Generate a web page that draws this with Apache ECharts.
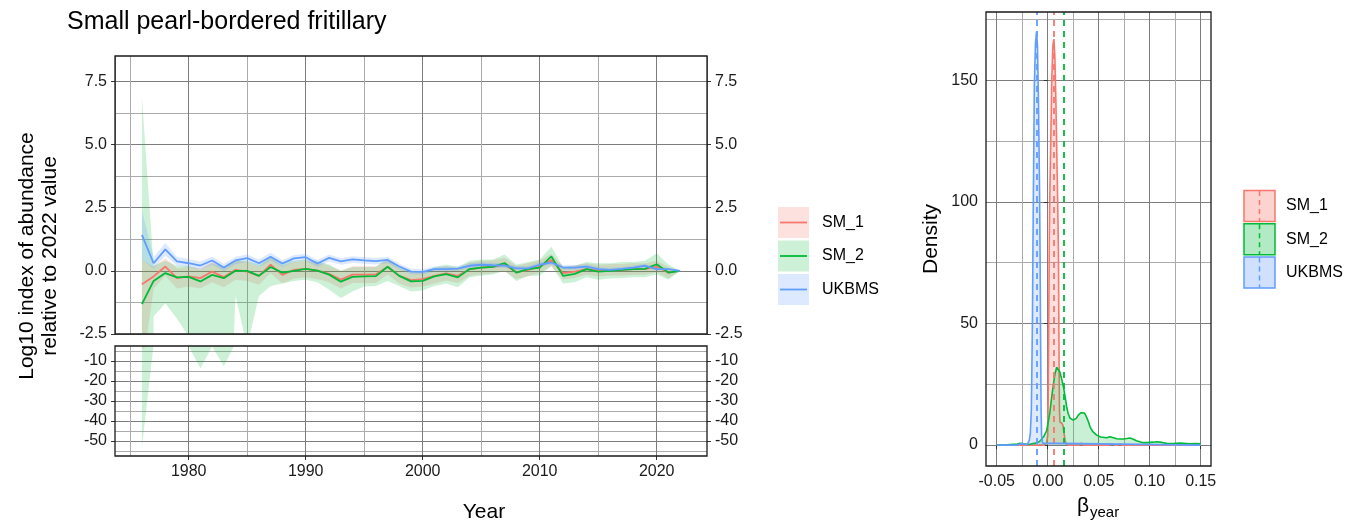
<!DOCTYPE html>
<html><head><meta charset="utf-8">
<script src="https://cdn.jsdelivr.net/npm/echarts@6/dist/echarts.min.js"></script>
<style>html,body{margin:0;padding:0;background:#fff}#c{width:1359px;height:523px}</style>
</head><body><div id="c"></div>
<script>
// ---------- DATA ----------
const years = [1976,1977,1978,1979,1980,1981,1982,1983,1984,1985,1986,1987,1988,1989,1990,1991,1992,1993,1994,1995,1996,1997,1998,1999,2000,2001,2002,2003,2004,2005,2006,2007,2008,2009,2010,2011,2012,2013,2014,2015,2016,2017,2018,2019,2020,2021,2022];
const seriesNames = ['SM_1','SM_2','UKBMS'];

const sm1   = [-0.53,-0.22,0.17,-0.29,-0.22,-0.29,-0.03,-0.25,0.04,-0.03,-0.20,0.24,-0.16,0.04,0.08,0.01,-0.12,-0.35,-0.15,-0.15,-0.15,0.16,-0.20,-0.37,-0.33,-0.20,-0.10,-0.20,0.06,0.13,0.16,0.25,-0.06,0.04,0.17,0.43,-0.09,-0.03,0.07,0.01,0.04,0.04,0.07,0.07,0.17,-0.07,0.00];
const sm1Hi = [0.45,0.15,0.50,0.10,0.15,0.10,0.35,0.15,0.40,0.35,0.15,0.55,0.20,0.35,0.40,0.35,0.20,0.00,0.18,0.18,0.18,0.45,0.10,-0.08,-0.05,0.10,0.18,0.10,0.33,0.40,0.42,0.52,0.20,0.30,0.42,0.68,0.16,0.22,0.30,0.24,0.27,0.27,0.30,0.30,0.40,0.15,0.00];
const sm1Lo = [-4.0,-0.70,-0.20,-0.70,-0.62,-0.70,-0.45,-0.65,-0.35,-0.40,-0.55,-0.10,-0.50,-0.30,-0.25,-0.33,-0.45,-0.70,-0.48,-0.48,-0.48,-0.15,-0.50,-0.66,-0.62,-0.50,-0.38,-0.48,-0.20,-0.14,-0.10,-0.02,-0.32,-0.22,-0.08,0.18,-0.34,-0.28,-0.16,-0.22,-0.19,-0.19,-0.16,-0.16,-0.06,-0.29,0.00];

const sm2   = [-1.32,-0.40,-0.09,-0.26,-0.24,-0.42,-0.16,-0.29,0.00,0.00,-0.20,0.15,-0.07,0.00,0.08,0.01,-0.15,-0.43,-0.24,-0.22,-0.21,0.16,-0.20,-0.42,-0.40,-0.22,-0.13,-0.26,0.07,0.13,0.16,0.31,-0.07,0.07,0.13,0.57,-0.20,-0.12,0.07,-0.03,0.00,0.04,0.07,0.08,0.26,-0.07,0.00];
const sm2Hi = [6.9,0.20,0.40,0.20,0.20,0.05,0.30,0.15,0.40,0.40,0.25,0.55,0.35,0.40,0.45,0.40,0.25,0.00,0.15,0.15,0.15,0.50,0.15,-0.05,-0.05,0.15,0.25,0.15,0.40,0.45,0.45,0.65,0.25,0.35,0.45,0.95,0.15,0.20,0.35,0.30,0.30,0.35,0.35,0.40,0.70,0.25,0.00];
const sm2Lo = [-53.0,-1.80,-1.28,-1.90,-2.60,-13.8,-2.80,-12.6,-1.00,-3.00,-1.00,-0.60,-0.50,-0.40,-0.35,-0.45,-0.75,-1.08,-0.82,-0.62,-0.60,-0.40,-0.60,-0.82,-0.78,-0.60,-0.50,-0.65,-0.25,-0.20,-0.15,0.00,-0.40,-0.20,-0.20,0.20,-0.50,-0.45,-0.25,-0.35,-0.30,-0.28,-0.25,-0.25,-0.15,-0.35,0.00];

const ukbms   = [1.42,0.30,0.85,0.37,0.30,0.21,0.41,0.13,0.41,0.50,0.30,0.56,0.29,0.49,0.54,0.29,0.51,0.37,0.45,0.41,0.38,0.43,0.17,-0.03,-0.04,0.07,0.07,0.09,0.20,0.24,0.22,0.21,0.10,0.10,0.24,0.33,0.13,0.13,0.17,0.07,0.04,0.08,0.13,0.20,0.07,0.07,0.00];
const ukbmsHi = [2.40,0.55,1.10,0.55,0.47,0.37,0.57,0.28,0.56,0.65,0.45,0.71,0.43,0.63,0.68,0.43,0.65,0.50,0.58,0.54,0.51,0.56,0.28,0.08,0.07,0.17,0.17,0.19,0.30,0.34,0.32,0.31,0.19,0.19,0.33,0.42,0.22,0.22,0.26,0.15,0.12,0.15,0.20,0.27,0.14,0.12,0.00];
const ukbmsLo = [0.45,0.08,0.60,0.20,0.14,0.05,0.25,-0.02,0.26,0.35,0.15,0.41,0.15,0.35,0.40,0.15,0.37,0.24,0.32,0.28,0.25,0.30,0.06,-0.14,-0.15,-0.03,-0.03,-0.01,0.10,0.14,0.12,0.11,0.01,0.01,0.15,0.24,0.04,0.04,0.08,-0.01,-0.04,0.01,0.06,0.13,0.00,0.02,0.00];

// tick labels
const yearTicks = [1980,1990,2000,2010,2020];
const upperTicks = [-2.5,0,2.5,5,7.5];
const lowerTicks = [-50,-40,-30,-20,-10];
const betaTicks = [-0.05,0,0.05,0.1,0.15];
const densityTicks = [0,50,100,150];

// posterior densities of beta_year
const dens1X = [-0.05,-0.01,-0.003,-0.002,-0.001,0,0.0005,0.001,0.0015,0.002,0.003,0.004,0.005,0.006,0.007,0.008,0.009,0.010,0.0105,0.011,0.0115,0.012,0.013,0.014,0.015,0.016,0.017,0.018,0.02,0.031,0.033,0.035,0.06,0.063,0.066,0.069,0.071,0.073,0.15];
const dens1Y = [0,0,0,0.2,1,4,20,50,80,100,125,150,164,167,160,142,118,95,80,45,15,9.5,9.2,9,8,5,2,0.5,0,0,0.8,0,0,0.5,0,0,0.5,0,0];
const dens2X = [-0.05,-0.04,-0.03,-0.027,-0.024,-0.02,-0.017,-0.012,-0.008,-0.004,-0.001,0.002,0.004,0.0056,0.007,0.0088,0.0105,0.012,0.0138,0.0154,0.017,0.0186,0.02,0.022,0.025,0.028,0.030,0.0325,0.0343,0.036,0.038,0.040,0.0415,0.044,0.048,0.052,0.0578,0.061,0.0645,0.0676,0.071,0.074,0.0775,0.0807,0.084,0.087,0.0935,0.098,0.1033,0.107,0.112,0.1166,0.123,0.1297,0.1395,0.145,0.15];
const dens2Y = [0,0.1,0.4,0.7,0.5,0.3,0.4,0.8,1.5,3.4,6,13,20,25,29,32,31.5,30,27,24,20,15.8,13,11,10.3,11,12.3,13.3,13.7,13.2,11.6,9.5,7.5,5.6,4.1,3.3,3.0,3.4,3.0,2.6,2.5,2.5,2.7,2.9,2.4,1.8,1.0,1.0,1.2,1.4,1.1,0.7,0.6,0.8,0.5,0.6,0.5];
const dens3X = [-0.05,-0.03,-0.027,-0.025,-0.022,-0.02,-0.019,-0.018,-0.017,-0.016,-0.015,-0.0145,-0.014,-0.0131,-0.012,-0.011,-0.010,-0.009,-0.008,-0.0075,-0.007,-0.0065,-0.006,-0.005,-0.004,0.15];
const dens3Y = [0,0,0.5,0.6,0.2,0.3,0.8,2,5,15,50,80,105,148,165,170,164,140,105,80,45,15,4,0.8,0,0];
const postMeans = [0.0059, 0.016, -0.0112];

// ---------- STYLE ----------
const colors = ['#F8766D','#00BA38','#619CFF'];
const ribbonFill = ['rgba(248,118,109,0.22)','rgba(0,186,56,0.2)','rgba(97,156,255,0.22)'];
const densFill = ['rgba(248,118,109,0.32)','rgba(0,186,56,0.3)','rgba(97,156,255,0.3)'];
const FONT = '"Liberation Sans", Arial, sans-serif';
const majorGrid = {show:true, lineStyle:{color:'#7d7d7d', width:1}};
const minorGrid = {show:true, lineStyle:{color:'#ababab', width:1}};
const lab = (extra) => Object.assign({color:'#1a1a1a', fontSize:16, fontFamily:FONT}, extra);
const tick = {show:true, length:4, lineStyle:{color:'#333', width:1}};

const G = [
  {left:115, top:56, width:592, height:278},
  {left:115, top:346, width:592, height:110},
  {left:986, top:12, width:225, height:454}
];

const mid = [sm1, sm2, ukbms];
const his = [sm1Hi, sm2Hi, ukbmsHi];
const los = [sm1Lo, sm2Lo, ukbmsLo];

function band(k, xi, yi) {
  return {
    type:'custom', xAxisIndex:xi, yAxisIndex:yi, clip:true, silent:true, z:2,
    data:[[years[0], 0]],
    renderItem: function(params, api) {
      const pts = [];
      for (let i = 0; i < years.length; i++) pts.push(api.coord([years[i], his[k][i]]));
      for (let i = years.length - 1; i >= 0; i--) pts.push(api.coord([years[i], los[k][i]]));
      const cs = params.coordSys;
      return {type:'group', clipPath:{type:'rect', shape:{x:cs.x, y:cs.y, width:cs.width, height:cs.height}},
        children:[{type:'polygon', shape:{points:pts}, style:{fill:ribbonFill[k], stroke:null}}]};
    }
  };
}

const series = [];
for (let k = 0; k < 3; k++) { series.push(band(k, 0, 0)); series.push(band(k, 1, 2)); }
for (let k = 0; k < 3; k++) {
  series.push({type:'line', name:seriesNames[k], xAxisIndex:0, yAxisIndex:0, z:3,
    data: years.map((y, i) => [y, mid[k][i]]), showSymbol:false, symbol:'none',
    lineStyle:{color:colors[k], width:1.8}, clip:true});
}
const dX = [dens1X, dens2X, dens3X], dY = [dens1Y, dens2Y, dens3Y];
for (let k = 0; k < 3; k++) {
  series.push({type:'line', name:seriesNames[k]+'_d', xAxisIndex:2, yAxisIndex:4, z:3+k,
    data: dX[k].map((x, i) => [x, dY[k][i]]), showSymbol:false, symbol:'none',
    lineStyle:{color:colors[k], width:1.6}, areaStyle:{color:densFill[k], origin:'auto'},
    markLine:{silent:true, precision:6, symbol:['none','none'], label:{show:false}, animation:false,
      lineStyle:{color:colors[k], type:[6,5], width:1.8}, data:[{xAxis:postMeans[k]}]}});
}

const xYear = (gi, showLab) => ({type:'value', gridIndex:gi, min:1973.7, max:2024.3, splitNumber:5,
  axisLine:{show:false}, axisTick: showLab ? Object.assign({customValues:yearTicks}, tick) : {show:false},
  axisLabel: showLab ? lab({margin:8, customValues:yearTicks, formatter:v=>String(v)}) : {show:false},
  splitLine:majorGrid, minorTick:{show:false, splitNumber:2}, minorSplitLine:minorGrid});

const yUp = (pos, grid) => ({type:'value', gridIndex:0, position:pos, min:-2.5, max:8.5, interval:2.5,
  axisLine:{show:false}, axisTick:Object.assign({customValues:upperTicks}, tick),
  axisLabel:lab({margin:8, customValues:upperTicks, formatter:v=>v.toFixed(1)}),
  splitLine: grid ? majorGrid : {show:false}, minorTick:{show:false, splitNumber:2},
  minorSplitLine: grid ? minorGrid : {show:false}});
const yLow = (pos, grid) => ({type:'value', gridIndex:1, position:pos, min:-57.5, max:-2.5, splitNumber:5,
  axisLine:{show:false}, axisTick:Object.assign({customValues:lowerTicks}, tick),
  axisLabel:lab({margin:8, customValues:lowerTicks, formatter:v=>String(v)}),
  splitLine: grid ? majorGrid : {show:false}, minorTick:{show:false, splitNumber:2},
  minorSplitLine: grid ? minorGrid : {show:false}});

const option = {
  animation:false,
  grid: G.map(g => Object.assign({show:false, containLabel:false}, g)),
  xAxis: [
    xYear(0, false), xYear(1, true),
    {type:'value', gridIndex:2, min:-0.0605, max:0.1601, splitNumber:5, axisLine:{show:false},
     axisTick:Object.assign({customValues:betaTicks}, tick),
     axisLabel:lab({margin:8, customValues:betaTicks, formatter:v=>v.toFixed(2)}),
     splitLine:majorGrid, minorTick:{show:false, splitNumber:2}, minorSplitLine:minorGrid}
  ],
  yAxis: [
    yUp('left', true), yUp('right', false), yLow('left', true), yLow('right', false),
    {type:'value', gridIndex:2, min:-8.6, max:178.1, splitNumber:4, axisLine:{show:false},
     axisTick:Object.assign({customValues:densityTicks}, tick),
     axisLabel:lab({margin:8, customValues:densityTicks, formatter:v=>String(v)}),
     splitLine:majorGrid, minorTick:{show:false, splitNumber:2}, minorSplitLine:minorGrid}
  ],
  series: series,
  graphic: buildGraphic()
};

function buildGraphic() {
  const g = [];
  const txt = (x, y, text, size, extra) => Object.assign({type:'text', x:x, y:y, z:100, silent:true,
    style:{text:text, fontSize:size, fontFamily:FONT, fill:'#000', align:'left', verticalAlign:'middle'}}, extra || {});
  g.push(txt(67, 22, 'Small pearl-bordered fritillary', 25));
  const yt = txt(39, 256, 'Log10 index of abundance\nrelative to 2022 value', 21, {rotation:Math.PI/2});
  yt.style.align = 'center'; yt.style.lineHeight = 23; g.push(yt);
  const xt = txt(484, 512, 'Year', 21); xt.style.align = 'center'; g.push(xt);
  const dt = txt(931, 239, 'Density', 21, {rotation:Math.PI/2}); dt.style.align = 'center'; g.push(dt);
  const bt = txt(1089, 506, 'β', 21); bt.style.align = 'right'; g.push(bt);
  g.push(txt(1090, 513, 'year', 15));
  // panel borders
  G.forEach(p => g.push({type:'rect', z:100, silent:true, shape:{x:p.left, y:p.top, width:p.width, height:p.height},
    style:{fill:null, stroke:'#1a1a1a', lineWidth:1.3}}));
  // left legend (ribbon + line)
  for (let k = 0; k < 3; k++) {
    const y0 = 207 + k * 33.5;
    g.push({type:'rect', z:100, silent:true, shape:{x:778, y:y0, width:31, height:31}, style:{fill:ribbonFill[k]}});
    g.push({type:'line', z:101, silent:true, shape:{x1:780, y1:y0+15.5, x2:807, y2:y0+15.5}, style:{stroke:colors[k], lineWidth:1.8}});
    g.push(txt(822, y0+15.5, seriesNames[k], 16));
  }
  // right legend (density)
  for (let k = 0; k < 3; k++) {
    const y0 = 190 + k * 33.3;
    g.push({type:'rect', z:100, silent:true, shape:{x:1244, y:y0+0.5, width:31, height:31}, style:{fill:densFill[k], stroke:colors[k], lineWidth:1.5}});
    g.push({type:'line', z:101, silent:true, shape:{x1:1259.5, y1:y0+1, x2:1259.5, y2:y0+31}, style:{stroke:colors[k], lineWidth:1.5, lineDash:[5,4]}});
    g.push(txt(1286, y0+16, seriesNames[k], 16));
  }
  return g;
}

const chart = echarts.init(document.getElementById('c'), null, {renderer:'canvas'});
chart.setOption(option);
</script>
</body></html>
